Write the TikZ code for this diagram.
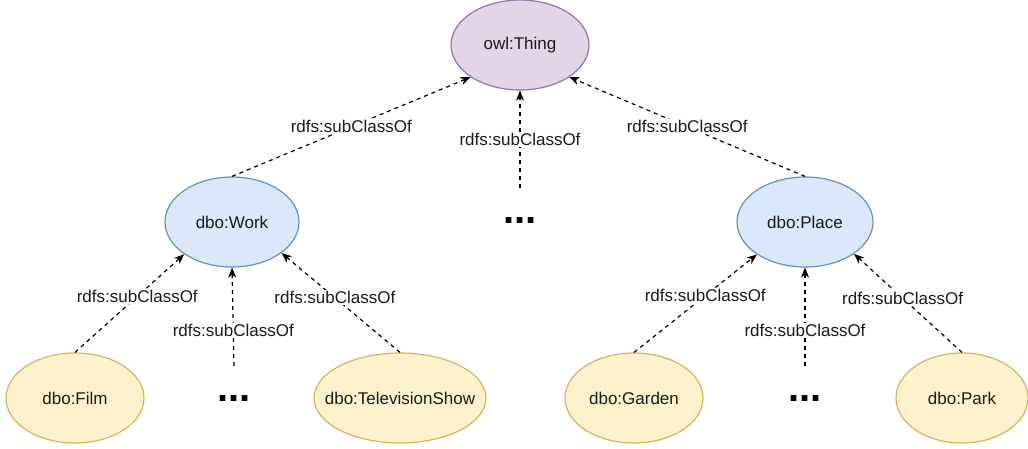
\documentclass[tikz,border=0pt]{standalone}
\usepackage{fontspec}
\setmainfont{Liberation Sans}
\usetikzlibrary{shapes.geometric,arrows.meta}
\definecolor{purpfill}{HTML}{E1D5E7}
\definecolor{purpline}{HTML}{9673A6}
\definecolor{bluefill}{HTML}{DAE8FC}
\definecolor{blueline}{HTML}{6C8EBF}
\definecolor{yelfill}{HTML}{FFF2CC}
\definecolor{yelline}{HTML}{D6B656}
\definecolor{txt}{HTML}{1A1A1A}
\tikzset{
  cls/.style={ellipse, inner ysep=0pt, inner xsep=-22pt, line width=1.2pt, font=\fontsize{17}{20}\selectfont,
    minimum height=90pt, text=txt},
  top/.style={cls, fill=purpfill, draw=purpline},
  mid/.style={cls, fill=bluefill, draw=blueline},
  leaf/.style={cls, fill=yelfill, draw=yelline},
  sub/.style={dash pattern=on 4pt off 4pt, line width=1.2pt,
    -{Stealth[length=10pt,width=8pt,inset=3pt]}},
  lbl/.style={fill=white, inner sep=1.5pt, text=txt, font=\fontsize{17}{20}\selectfont},
  dots/.style={anchor=base, font=\bfseries\fontsize{40}{40}\selectfont, inner sep=0pt}
}
\begin{document}
\begin{tikzpicture}[x=1pt,y=-1pt]
\useasboundingbox (0,0) rectangle (1028,448);
% nodes
\node[top, minimum width=138pt] (thing) at (520,45) {owl:Thing};
\node[mid, minimum width=134pt] (work) at (232,222) {dbo:Work};
\node[mid, minimum width=136pt] (place) at (805,222) {dbo:Place};
\node[leaf, minimum width=138pt] (film) at (75,398) {dbo:Film};
\node[leaf, minimum width=172pt] (tv) at (400,398) {dbo:TelevisionShow};
\node[leaf, minimum width=138pt] (garden) at (634,398) {dbo:Garden};
\node[leaf, minimum width=132pt] (park) at (962,398) {dbo:Park};
% ellipsis markers
\node[dots] (d1) at (520,223) {...};
\node[dots] (d2) at (234,401) {...};
\node[dots] (d3) at (805,401) {...};
\coordinate (m1) at (520,188);
\coordinate (m2) at (234,366);
\coordinate (m3) at (805,366);
% upper connectors
\draw[sub] (work.north) -- node[lbl, pos=0.5] {rdfs:subClassOf} (thing.213);
\draw[sub] (m1) -- node[lbl, pos=0.5] {rdfs:subClassOf} (thing.south);
\draw[sub] (place.north) -- node[lbl, pos=0.5] {rdfs:subClassOf} (thing.327);
% lower connectors (work)
\draw[sub] (film.north) -- node[lbl, pos=0.57] {rdfs:subClassOf} (work.214);
\draw[sub] (m2) -- node[lbl, pos=0.36] {rdfs:subClassOf} (work.south);
\draw[sub] (tv.north) -- node[lbl, pos=0.55] {rdfs:subClassOf} (work.328);
% lower connectors (place)
\draw[sub] (garden.north) -- node[lbl, pos=0.58] {rdfs:subClassOf} (place.214);
\draw[sub] (m3) -- node[lbl, pos=0.36] {rdfs:subClassOf} (place.south);
\draw[sub] (park.north) -- node[lbl, pos=0.55] {rdfs:subClassOf} (place.327);
\end{tikzpicture}
\end{document}
